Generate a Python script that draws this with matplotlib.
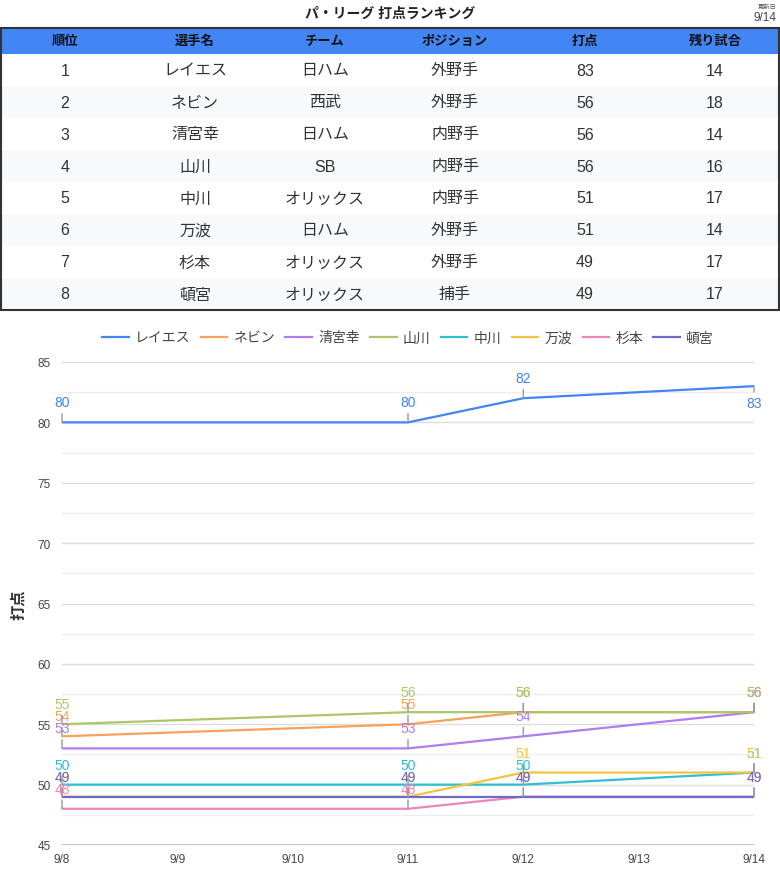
import matplotlib
matplotlib.use("Agg")
import matplotlib.pyplot as plt
from matplotlib.patches import Rectangle
from matplotlib.lines import Line2D

plt.rcParams['font.family'] = ['Liberation Sans', 'Noto Sans CJK JP', 'DejaVu Sans']

# ---------------- data ----------------
title = "パ・リーグ 打点ランキング"
update_label = "更新日"
update_date = "9/14"

table_columns = ["順位", "選手名", "チーム", "ポジション", "打点", "残り試合"]
ranks = ["1", "2", "3", "4", "5", "6", "7", "8"]
players = ["レイエス", "ネビン", "清宮幸", "山川", "中川", "万波", "杉本", "頓宮"]
teams = ["日ハム", "西武", "日ハム", "SB", "オリックス", "日ハム", "オリックス", "オリックス"]
positions = ["外野手", "外野手", "内野手", "内野手", "内野手", "外野手", "外野手", "捕手"]
rbis = [83, 56, 56, 56, 51, 51, 49, 49]
games_left = [14, 18, 14, 16, 17, 14, 17, 17]

all_dates = ["9/8", "9/9", "9/10", "9/11", "9/12", "9/13", "9/14"]
data_dates = ["9/8", "9/11", "9/12", "9/14"]
series_values = {
    "レイエス": [80, 80, 82, 83],
    "ネビン":   [54, 55, 56, 56],
    "清宮幸":   [53, 53, 54, 56],
    "山川":     [55, 56, 56, 56],
    "中川":     [50, 50, 50, 51],
    "万波":     [49, 49, 51, 51],
    "杉本":     [48, 48, 49, 49],
    "頓宮":     [49, 49, 49, 49],
}
y_label = "打点"
y_min, y_max = 45, 85

# ---------------- styles ----------------
colors = ["#4285F4", "#F7A15C", "#B07CF0", "#AFC56A", "#2EBFD3", "#F1C53E", "#EE85BA", "#6E6BC8"]
W, H = 780, 878
fig = plt.figure(figsize=(W / 100, H / 100), dpi=100)

# overlay axes in pixel coords for the table/title
bg = fig.add_axes([0, 0, 1, 1])
bg.set_xlim(0, W)
bg.set_ylim(H, 0)
bg.axis("off")

bg.text(W / 2, 14, title, ha="center", va="center", fontsize=10, fontweight="bold", color="#222")
bg.text(776, 7, update_label, ha="right", va="center", fontsize=4.5, color="#555")
bg.text(777, 18, update_date, ha="right", va="center", fontsize=8.5, color="#444")

tbl_top, hdr_h, row_h = 29, 26, 32
ncol = len(table_columns)
col_w = W / ncol
bg.add_patch(Rectangle((0, tbl_top), W, hdr_h, facecolor="#4285F4", edgecolor="none"))
for j, c in enumerate(table_columns):
    bg.text(col_w * (j + 0.5), tbl_top + hdr_h / 2, c, ha="center", va="center",
            fontsize=9.5, fontweight="bold", color="#111")
rows = list(zip(ranks, players, teams, positions, rbis, games_left))
for i, r in enumerate(rows):
    y0 = tbl_top + hdr_h + i * row_h
    bg.add_patch(Rectangle((0, y0), W, row_h,
                           facecolor="#FFFFFF" if i % 2 == 0 else "#F8F9FA", edgecolor="none"))
    for j, v in enumerate(r):
        bg.text(col_w * (j + 0.5), y0 + row_h / 2, str(v), ha="center", va="center",
                fontsize=11.5, color="#333")
tbl_bottom = tbl_top + hdr_h + len(rows) * row_h
bg.add_patch(Rectangle((0.8, tbl_top), W - 1.6, tbl_bottom - tbl_top,
                       facecolor="none", edgecolor="#333", lw=1.5))

# ---------------- chart ----------------
ax_l, ax_r, ax_t, ax_b = 62, 754, 363, 846
ax = fig.add_axes([ax_l / W, 1 - ax_b / H, (ax_r - ax_l) / W, (ax_b - ax_t) / H])
ax.set_xlim(0, len(all_dates) - 1)
ax.set_ylim(y_min, y_max)
for s in ax.spines.values():
    s.set_visible(False)
ax.set_yticks(range(y_min, y_max + 1, 5))
ax.set_yticks([v + 2.5 for v in range(y_min, y_max, 5)], minor=True)
ax.set_xticks(range(len(all_dates)))
ax.set_xticklabels(all_dates)
ax.tick_params(axis="both", length=0, labelsize=8.5, labelcolor="#444")
ax.tick_params(axis="y", pad=8)
ax.tick_params(axis="x", pad=6)
ax.tick_params(axis="y", which="minor", length=0)
ax.grid(axis="y", which="major", color="#DDDDDD", lw=1)
ax.grid(axis="y", which="minor", color="#EEEEEE", lw=1)
ax.grid(axis="x", visible=False)
ax.axhline(y_min, color="#BBBBBB", lw=1.2, zorder=1)
ax.set_axisbelow(True)

xs = [all_dates.index(d) for d in data_dates]
for k, (name, vals) in enumerate(series_values.items()):
    ax.plot(xs, vals, color=colors[k], lw=1.6, label=name, zorder=3, solid_capstyle="butt")

# annotations with stems
label_h_px = 14
for k, (name, vals) in enumerate(series_values.items()):
    for x, v in zip(xs, vals):
        ypix = ax_b - (v - y_min) / (y_max - y_min) * (ax_b - ax_t)
        off = 20
        if ypix - off - label_h_px / 2 < ax_t:
            off = -17
        ax.annotate(str(v), xy=(x, v), xytext=(0, off), textcoords="offset pixels",
                    ha="center", va="center", fontsize=10, color=colors[k], zorder=5,
                    annotation_clip=False,
                    arrowprops=dict(arrowstyle="-", color="#999999", lw=1,
                                    shrinkA=1, shrinkB=0))

ax.set_ylabel(y_label, fontsize=11, fontweight="bold", color="#333")
ax.yaxis.set_label_coords(-(62 - 26) / (ax_r - ax_l), 0.5)

handles = [Line2D([0], [0], color=c, lw=1.6) for c in colors]
leg = ax.legend(handles, list(series_values.keys()), loc="lower center",
                bbox_to_anchor=(0.5, 1.0 + 12 / (ax_b - ax_t)), ncol=8, frameon=False,
                fontsize=10, handlelength=1.9, handletextpad=0.45, columnspacing=0.75,
                borderaxespad=0)
for t in leg.get_texts():
    t.set_color("#444")

fig.savefig("out.png", dpi=100)
